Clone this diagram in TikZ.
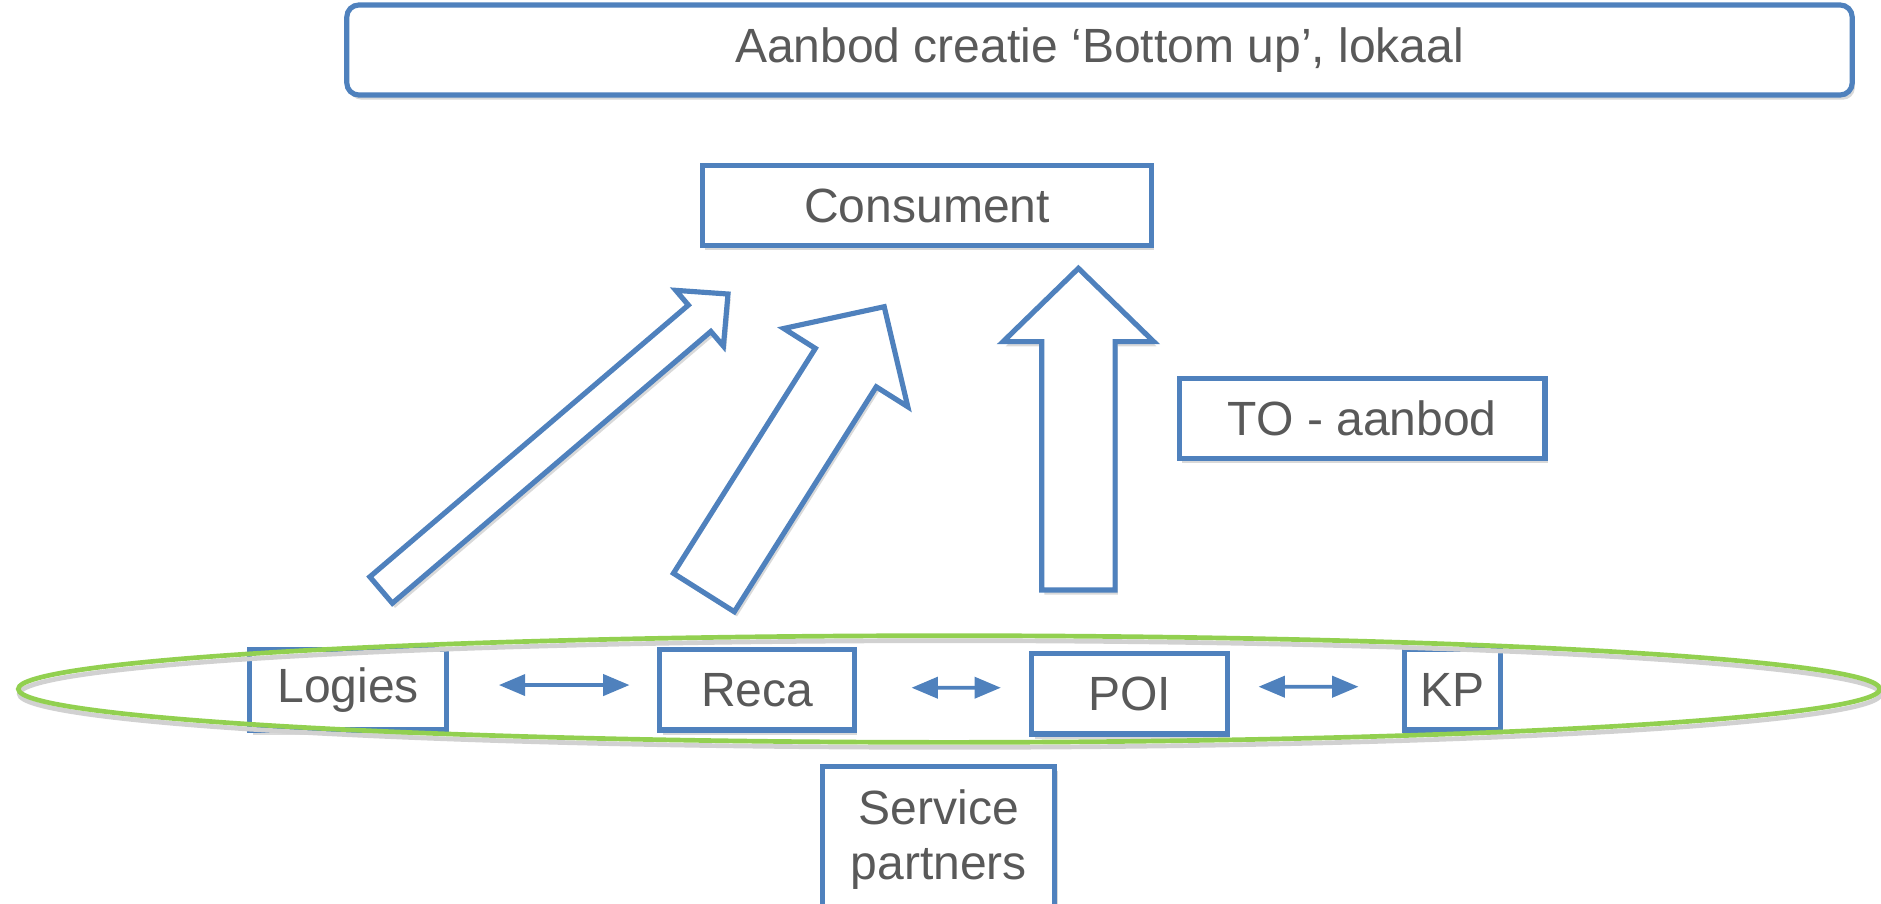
\documentclass[tikz,border=0pt]{standalone}
\usepackage{fontspec}
\setmainfont{Liberation Sans}
\usetikzlibrary{arrows,calc,shadows,shapes.geometric}
\definecolor{lijnblauw}{HTML}{4F81BD}
\definecolor{ovaalgroen}{HTML}{92D050}
\definecolor{tekstgrijs}{HTML}{595959}
\tikzset{
  vak/.style = {rectangle, draw=lijnblauw, line width=2.2pt, fill=white,
    text=tekstgrijs, inner sep=0pt, align=center,
    font=\fontsize{20.5}{23.5}\selectfont,
    drop shadow={shadow xshift=0.4mm, shadow yshift=-0.7mm, fill=black, opacity=0.15}},
  kopvak/.style = {vak, rounded corners=1.8mm},% titel bovenaan
  groep/.style = {ellipse, draw=ovaalgroen, line width=2pt, inner sep=0pt},
  pijl/.style = {draw=lijnblauw, line width=2.2pt, fill=white, line join=miter,
    drop shadow={shadow xshift=0.4mm, shadow yshift=-0.7mm, fill=black, opacity=0.15}},
  wissel/.style = {<->, >=triangle 45, draw=lijnblauw, line width=1.6pt}
}
% blokpijl: staart, punt, halve schachtbreedte, halve kopbreedte, koplengte
\newcommand{\blokpijl}[5]{%
  \coordinate (kop) at ($(#2)!#5!(#1)$);
  \draw[pijl] ($(#1)!#3!90:(#2)$) -- ($(kop)!#3!-90:(#1)$) -- ($(kop)!#4!-90:(#1)$)
    -- (#2) -- ($(kop)!#4!90:(#1)$) -- ($(kop)!#3!90:(#1)$) -- ($(#1)!#3!-90:(#2)$) -- cycle;
}

\begin{document}
\begin{tikzpicture}[x=0.15mm, y=-0.15mm]
  \useasboundingbox (0,0) rectangle (1881,903);

  \node [kopvak, minimum width=225.8mm, minimum height=13.5mm] (titel) at (1099.5,50)
    {Aanbod creatie ‘Bottom up’, lokaal};
  \node [vak, minimum width=67.4mm, minimum height=11.9mm] (consument) at (927.1,205.5) {Consument};
  \node [vak, minimum width=54.8mm, minimum height=12mm] (to) at (1362.3,418.3) {TO - aanbod};

  % de drie blokpijlen naar de consument
  \coordinate (staart1) at (381.1,590);
  \coordinate (punt1) at (728,294);
  \coordinate (staart2) at (703.9,592.5);
  \coordinate (punt2) at (884.2,306.7);
  \coordinate (staart3) at (1078.4,590);
  \coordinate (punt3) at (1078.4,268.3);
  \blokpijl{staart1}{punt1}{2.6mm}{5.5mm}{5.6mm}
  \blokpijl{staart2}{punt2}{5.4mm}{11mm}{10.8mm}
  \blokpijl{staart3}{punt3}{5.5mm}{11.3mm}{11mm}

  % aanbieders
  \node [vak, minimum width=29.5mm, minimum height=12.1mm] (logies) at (348.2,689.7) {Logies};
  \node [vak, minimum width=29.2mm, minimum height=12.1mm] (reca) at (757.2,689.7) {Reca};
  \node [vak, minimum width=29.3mm, minimum height=12.1mm] (poi) at (1129.5,693.7) {POI};
  \node [vak, minimum width=14.4mm, minimum height=12.1mm] (kp) at (1452.2,689.7) {KP};
  \node [vak, minimum width=34.8mm, minimum height=21.8mm] (service) at (938.9,839.4)
    {Service\\partners};

  \node [groep, draw=black!18, minimum width=279.2mm, minimum height=16mm] (ovaalschaduw) at (950,694) {};
  \node [groep, minimum width=279.2mm, minimum height=16mm] (keten) at (949,689) {};

  \draw [wissel] ([xshift=7.5mm,yshift=0.7mm]logies.east) -- ([xshift=-4.2mm,yshift=0.7mm]reca.west);
  \draw [wissel] ([xshift=8.2mm,yshift=0.3mm]reca.east) -- ([xshift=-4.3mm,yshift=0.9mm]poi.west);
  \draw [wissel] ([xshift=4.35mm,yshift=1.05mm]poi.east) -- ([xshift=-6.5mm,yshift=0.45mm]kp.west);
\end{tikzpicture}
\end{document}
